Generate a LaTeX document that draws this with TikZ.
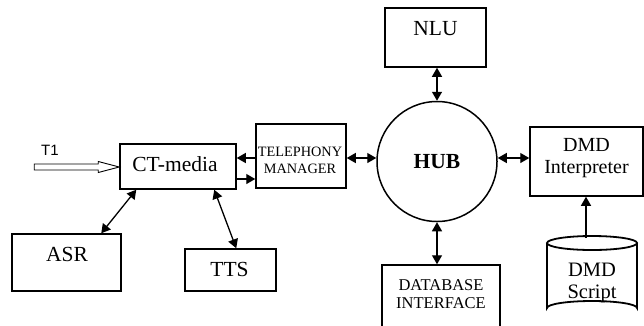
\documentclass[tikz,border=0pt]{standalone}
\usepackage{fontspec}
\setmainfont{Liberation Serif}
\newfontfamily\sansf{Liberation Sans}
\usetikzlibrary{arrows.meta,calc}

\tikzset{
  box/.style={draw, line width=1.5pt, inner sep=0pt},
  hubnode/.style={draw, circle, line width=1.5pt, inner sep=0pt, minimum size=120pt},
  lbl/.style={anchor=base, inner sep=0pt, font=\fontsize{21.5}{23}\selectfont},
  small/.style={anchor=base, inner sep=0pt, font=\fontsize{14.3}{16}\selectfont},
  mid/.style={anchor=base, inner sep=0pt, font=\fontsize{16.5}{18}\selectfont},
  both/.style={line width=1.3pt, {Triangle[length=9pt,width=10pt]}-{Triangle[length=9pt,width=10pt]}},
  one/.style={line width=1.3pt, -{Triangle[length=9pt,width=10pt]}},
  cyl/.style={line width=1.8pt},
}

\begin{document}
\begin{tikzpicture}[x=1pt,y=-1pt]
\fill[white] (0,0) rectangle (644,325);
\useasboundingbox (0,0) rectangle (644,325);

% rows for the horizontal links
\coordinate (row1) at (0,158);
\coordinate (row2) at (0,179);

% boxes
\node[box, minimum width=116pt, minimum height=45pt] (ct)  at (178,166.5) {};
\node[box, minimum width=109pt, minimum height=57pt] (asr) at (66.5,262.5) {};
\node[box, minimum width=91pt,  minimum height=42pt] (tts) at (230.5,270) {};
\node[box, minimum width=90pt,  minimum height=64pt] (tm)  at (301,156) {};
\node[hubnode] (hub) at (437,161.5) {};
\node[box, minimum width=101pt, minimum height=59pt] (nlu) at (435.5,37.5) {};
\node[box, minimum width=118pt, minimum height=63pt] (db)  at (441,296.5) {};
\node[box, minimum width=113pt, minimum height=69pt] (dmd) at (586.5,161.5) {};

% script store (cylinder)
\draw[cyl] (547,243) -- (547,308) arc[start angle=180, end angle=360, x radius=45, y radius=7] -- (637,243);
\draw[cyl] (592,243) ellipse[x radius=45, y radius=7];
\coordinate (cyltop) at (586,238);

% labels
\node[lbl] at (175,171.5) {CT-media};
\node[lbl] at (67,261) {ASR};
\node[lbl] at (229.5,276.5) {TTS};
\node[small] at (300,156.5) {TELEPHONY};
\node[small] at (300,173) {MANAGER};
\node[lbl, font=\fontsize{21.5}{23}\selectfont\bfseries] at (437,168) {HUB};
\node[lbl] at (435.5,35) {NLU};
\node[mid] at (441,290) {DATABASE};
\node[mid] at (441,308) {INTERFACE};
\node[lbl, font=\fontsize{20}{22}\selectfont] at (586.5,151.7) {DMD};
\node[lbl, font=\fontsize{20}{22}\selectfont] at (586.5,173.7) {Interpreter};
\node[lbl, font=\fontsize{20.5}{22}\selectfont] at (592,276.5) {DMD};
\node[lbl, font=\fontsize{20.5}{22}\selectfont] at (592,298) {Script};
\node[anchor=base, inner sep=0pt, font=\sansf\fontsize{15}{17}\selectfont] at (50,155) {T1};

% incoming trunk (hollow arrow)
\draw[line width=0.9pt] ($(ct.west)+(0,0.5)$) -- ++(-21,-5.5) -- ++(0,2.5) -- ++(-64,0)
  -- ++(0,6) -- ++(64,0) -- ++(0,2.5) -- cycle;

% links
\draw[both] ($(asr.north west)+(90,0)$) -- ($(ct.south west)+(17,0)$);
\draw[both] ($(ct.south west)+(95,0)$) -- ($(tts.north west)+(52,0)$);
\draw[one] (tm.west |- row1) -- (ct.east |- row1);
\draw[one] (ct.east |- row2) -- (tm.west |- row2);
\draw[both] (tm.east |- row1) -- (hub.west |- row1);
\draw[both] (hub.east |- row1) -- (dmd.west |- row1);
\draw[both] (hub.north |- nlu.south) -- (hub.north);
\draw[both] (hub.south) -- (hub.south |- db.north);
\draw[one] (cyltop) -- (cyltop |- dmd.south);
\end{tikzpicture}
\end{document}
